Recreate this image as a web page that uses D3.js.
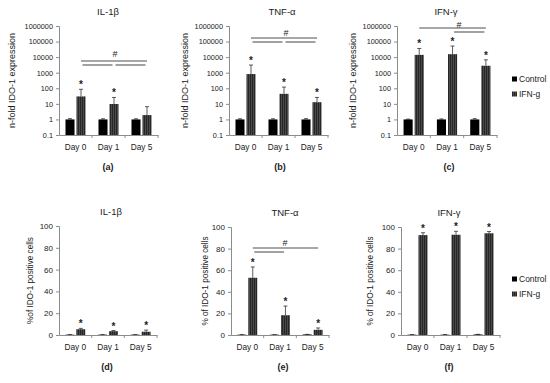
<!DOCTYPE html>
<html>
<head>
<meta charset="utf-8">
<script src="https://cdn.jsdelivr.net/npm/d3@7"></script>
<style>
  body { margin: 0; background: #fff; }
  text { font-family: "Liberation Sans", Arial, sans-serif; fill: #222; }
</style>
</head>
<body>
<div class="canvas"></div>
<script>
// categories / series
const days = ['Day 0', 'Day 1', 'Day 5'];
const series = ['Control', 'IFN-g'];
const logTicks = [0.1, 1, 10, 100, 1000, 10000, 100000, 1000000];
const pctTicks = [0, 20, 40, 60, 80, 100];

// (a) IL-1b, n-fold expression (error = +SD)
const aCtrl = [1, 1, 1];
const aCtrlErr = [0.12, 0.1, 0.1];
const aIfn = [30, 9.8, 1.9];
const aIfnErr = [56, 16, 4.7];
const aStars = [1, 1, 0];
// (b) TNF-a
const bCtrl = [1, 1, 1];
const bCtrlErr = [0.1, 0.1, 0.12];
const bIfn = [820, 44, 12.8];
const bIfnErr = [2300, 75, 13];
const bStars = [1, 1, 1];
// (c) IFN-y
const cCtrl = [1, 1, 1];
const cCtrlErr = [0.05, 0.08, 0.12];
const cIfn = [14000, 15500, 2800];
const cIfnErr = [22000, 36000, 3900];
const cStars = [1, 1, 1];
// (d) IL-1b, % IDO-1 positive cells
const dCtrl = [0.3, 0.3, 0.3];
const dCtrlErr = [0.1, 0.1, 0.1];
const dIfn = [5.3, 3.5, 3.0];
const dIfnErr = [0.8, 0.6, 1.5];
const dStars = [1, 1, 1];
// (e) TNF-a
const eCtrl = [0.3, 0.3, 0.5];
const eCtrlErr = [0.1, 0.1, 0.1];
const eIfn = [53, 18.3, 4.8];
const eIfnErr = [10, 8.5, 1.7];
const eStars = [1, 1, 1];
// (f) IFN-y
const fCtrl = [0.3, 0.3, 0.5];
const fCtrlErr = [0.1, 0.1, 0.1];
const fIfn = [92.5, 92.8, 94.2];
const fIfnErr = [2.2, 3.2, 1.6];
const fStars = [1, 1, 1];

// significance brackets: [from day, to day, level]
const aBrackets = [[0, 2, 0], [0, 1, 1], [1, 2, 1]];
const bBrackets = [[0, 2, 0], [0, 1, 1], [1, 2, 1]];
const cBrackets = [[0, 2, 0], [1, 2, 1]];
const eBrackets = [[0, 2, 0], [0, 1, 1]];

const svg = d3.select('.canvas')
  .append('svg')
    .attr('width', 550)
    .attr('height', 383);

svg.append('rect').attr('width', 550).attr('height', 383).attr('fill', '#fff');

// striped fill for IFN-g bars
const pat = svg.append('defs').append('pattern')
  .attr('id', 'stripes')
  .attr('patternUnits', 'userSpaceOnUse')
  .attr('width', 2).attr('height', 4);
pat.append('rect').attr('width', 2).attr('height', 4).attr('fill', '#4a4a4a');
pat.append('rect').attr('width', 1).attr('height', 4).attr('fill', '#262626');

const fills = ['#000', 'url(#stripes)'];
const axisColor = '#8c8c8c';

const panels = [
  {log: true, x0: 59, x1: 158, yTop: 26, yBot: 135, title: 'IL-1\u03b2', letter: '(a)', titleX: 108, letterX: 108,
   ylab: 'n-fold IDO-1 expression', ylabX: 12, ctrl: aCtrl, ctrlErr: aCtrlErr, ifn: aIfn, ifnErr: aIfnErr, stars: aStars,
   brackets: aBrackets, brY: [61, 65], hash: [115, 57]},
  {log: true, x0: 229, x1: 328, yTop: 26, yBot: 135, title: 'TNF-\u03b1', letter: '(b)', titleX: 282, letterX: 280,
   ylab: 'n-fold IDO-1 expression', ylabX: 185, ctrl: bCtrl, ctrlErr: bCtrlErr, ifn: bIfn, ifnErr: bIfnErr, stars: bStars,
   brackets: bBrackets, brY: [38, 42], hash: [286, 36]},
  {log: true, x0: 397, x1: 497, yTop: 26, yBot: 135, title: 'IFN-\u03b3', letter: '(c)', titleX: 446, letterX: 449,
   ylab: 'n-fold IDO-1 expression', ylabX: 353, ctrl: cCtrl, ctrlErr: cCtrlErr, ifn: cIfn, ifnErr: cIfnErr, stars: cStars,
   brackets: cBrackets, brY: [28, 32], hash: [459, 28], legendY: 79},
  {log: false, x0: 59, x1: 157, yTop: 226, yBot: 335, title: 'IL-1\u03b2', letter: '(d)', titleX: 111, letterX: 107,
   ylab: '%of IDO-1 positive cells', ylabX: 30, ctrl: dCtrl, ctrlErr: dCtrlErr, ifn: dIfn, ifnErr: dIfnErr, stars: dStars,
   brackets: [], brY: []},
  {log: false, x0: 231, x1: 329, yTop: 227, yBot: 335, title: 'TNF-\u03b1', letter: '(e)', titleX: 285, letterX: 283,
   ylab: '% of IDO-1 positive cells', ylabX: 205, ctrl: eCtrl, ctrlErr: eCtrlErr, ifn: eIfn, ifnErr: eIfnErr, stars: eStars,
   brackets: eBrackets, brY: [248, 252], hash: [285, 246]},
  {log: false, x0: 401, x1: 500, yTop: 227, yBot: 335, title: 'IFN-\u03b3', letter: '(f)', titleX: 449, letterX: 449,
   ylab: '% of IDO-1 positive cells', ylabX: 370, ctrl: fCtrl, ctrlErr: fCtrlErr, ifn: fIfn, ifnErr: fIfnErr, stars: fStars,
   brackets: [], brY: [], legendY: 279}
];

panels.forEach(p => {
  const g = svg.append('g');
  const x = d3.scaleBand().domain(days).range([p.x0, p.x1]);
  const xs = d3.scaleBand().domain(series).range([0, x.bandwidth()])
    .paddingInner(0.18).paddingOuter(0.59);
  const y = p.log
    ? d3.scaleLog().domain([0.1, 1000000]).range([p.yBot, p.yTop])
    : d3.scaleLinear().domain([0, 100]).range([p.yBot, p.yTop]);
  const base = p.log ? 0.1 : 0;

  const rows = [];
  days.forEach((d, i) => {
    rows.push({day: d, s: 0, v: p.ctrl[i], e: p.ctrlErr[i], star: 0});
    rows.push({day: d, s: 1, v: p.ifn[i], e: p.ifnErr[i], star: p.stars[i]});
  });
  const cx = d => x(d.day) + xs(series[d.s]) + xs.bandwidth() / 2;

  // error bars (upper only)
  g.selectAll('line.err').data(rows).enter().append('line')
    .attr('x1', cx).attr('x2', cx)
    .attr('y1', d => y(d.v)).attr('y2', d => y(d.v + d.e))
    .attr('stroke', '#333').attr('stroke-width', 0.8);
  g.selectAll('line.cap').data(rows).enter().append('line')
    .attr('x1', d => cx(d) - 2).attr('x2', d => cx(d) + 2)
    .attr('y1', d => y(d.v + d.e)).attr('y2', d => y(d.v + d.e))
    .attr('stroke', '#333').attr('stroke-width', 0.8);

  g.selectAll('rect.bar').data(rows).enter().append('rect')
    .attr('x', d => x(d.day) + xs(series[d.s]))
    .attr('width', xs.bandwidth())
    .attr('y', d => y(d.v))
    .attr('height', d => y(base) - y(d.v))
    .attr('fill', d => fills[d.s]);

  // stars
  g.selectAll('text.star').data(rows.filter(d => d.star)).enter().append('text')
    .attr('x', cx).attr('y', d => y(d.v + d.e) - 1)
    .attr('text-anchor', 'middle')
    .style('font-size', '10px').style('font-weight', 'bold')
    .text('*');

  // y axis
  const yAxis = d3.axisLeft(y).tickValues(p.log ? logTicks : pctTicks)
    .tickSize(3).tickFormat(d => String(d));
  const ya = g.append('g').attr('transform', `translate(${p.x0},0)`).call(yAxis);
  ya.selectAll('path, line').attr('stroke', axisColor);
  ya.selectAll('text').style('font-size', p.log ? '7.3px' : '8px').attr('fill', '#222')
    .style('font-family', '"Liberation Sans", Arial, sans-serif');

  // x axis
  const xAxis = d3.axisBottom(x).tickSize(0).tickPadding(9);
  const xa = g.append('g').attr('transform', `translate(0,${p.yBot})`).call(xAxis);
  xa.select('path').attr('stroke', axisColor);
  xa.selectAll('text').style('font-size', '8.3px').attr('fill', '#222')
    .style('font-family', '"Liberation Sans", Arial, sans-serif');
  g.selectAll('line.xt').data(days).enter().append('line')
    .attr('x1', d => x(d) + x.bandwidth()).attr('x2', d => x(d) + x.bandwidth())
    .attr('y1', p.yBot).attr('y2', p.yBot + 3)
    .attr('stroke', axisColor);

  // significance brackets
  const ifnX = i => x(days[i]) + xs('IFN-g') + xs.bandwidth() / 2;
  p.brackets.forEach(b => {
    const shrink = b[2] === 0 ? 0 : 1.5;
    g.append('line')
      .attr('x1', ifnX(b[0]) + shrink).attr('x2', ifnX(b[1]) - shrink)
      .attr('y1', p.brY[b[2]]).attr('y2', p.brY[b[2]])
      .attr('stroke', '#8a8a8a').attr('stroke-width', 1.6);
  });
  if (p.hash) {
    g.append('text').attr('x', p.hash[0]).attr('y', p.hash[1])
      .attr('text-anchor', 'middle').style('font-size', '9px').text('#');
  }

  // titles and labels
  g.append('text').attr('x', p.titleX).attr('y', p.yTop - 11)
    .attr('text-anchor', 'middle').style('font-size', '9.5px').text(p.title);
  g.append('text').attr('x', p.letterX).attr('y', p.yBot + 35)
    .attr('text-anchor', 'middle').style('font-size', '9px').style('font-weight', 'bold').text(p.letter);
  g.append('text')
    .attr('transform', `translate(${p.ylabX + 3},${(p.yTop + p.yBot) / 2}) rotate(-90)`)
    .attr('text-anchor', 'middle').style('font-size', p.log ? '9px' : '8.2px').text(p.ylab);

  if (p.legendY) {
    const lg = g.append('g').attr('transform', `translate(512,${p.legendY})`);
    series.forEach((s, i) => {
      lg.append('rect').attr('x', 0).attr('y', i * 15 - 2.5).attr('width', 5).attr('height', 5)
        .attr('fill', fills[i]);
      lg.append('text').attr('x', 7).attr('y', i * 15 + 3)
        .style('font-size', '8.5px').text(s);
    });
  }
});
</script>
</body>
</html>
